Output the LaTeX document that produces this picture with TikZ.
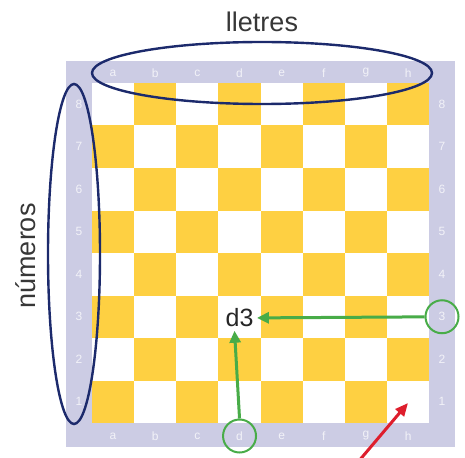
\documentclass[tikz,border=0pt]{standalone}
\usepackage{fontspec}
\setmainfont{Liberation Sans}
\usetikzlibrary{arrows.meta}
\definecolor{boardyellow}{RGB}{254,208,66}
\definecolor{framelilac}{RGB}{204,204,228}
\definecolor{ringblue}{RGB}{28,42,108}
\definecolor{ringgreen}{RGB}{72,172,72}
\definecolor{arrowred}{RGB}{222,30,45}
\definecolor{labelgray}{RGB}{55,55,55}
\newcommand{\sqw}{42.15}
\newcommand{\sqh}{42.5}
\begin{document}
\begin{tikzpicture}[x=1pt,y=-1pt,
	coordlabel/.style={text=white!75!framelilac,font=\fontsize{12}{12}\selectfont,inner sep=0pt},
	ring/.style={draw=ringgreen,line width=2pt,circle,minimum size=33pt,inner sep=0pt},
	pointer/.style={draw=ringgreen,line width=3pt,-{Triangle[length=12pt,width=11pt]}},
	bigtext/.style={text=labelgray,font=\fontsize{27}{27}\selectfont}]
	\useasboundingbox (0,0) rectangle (465,457);
	\fill [framelilac] (66,61) rectangle (455,447);
	\fill [white] (92,83) rectangle (92+8*\sqw,83+8*\sqh);
	\foreach \c in {0,...,7}{
		\foreach \r in {0,...,7}{
			\pgfmathparse{int(mod(\c+\r,2))}
			\ifnum\pgfmathresult=1
				\fill [boardyellow] (92+\c*\sqw,83+\r*\sqh) rectangle ++(\sqw,\sqh);
			\fi
		}
	}
	\foreach \l [count=\i from 0] in {a,b,c,d,e,f,g,h}{
		\node [coordlabel] at (92+\i*\sqw+0.5*\sqw,73) (top-\l) {\l};
		\node [coordlabel] at (92+\i*\sqw+0.5*\sqw,436) (bot-\l) {\l};
	}
	\foreach \n in {1,...,8}{
		\node [coordlabel] at (79,83+8.5*\sqh-\n*\sqh) (left-\n) {\n};
		\node [coordlabel] at (442,83+8.5*\sqh-\n*\sqh) (right-\n) {\n};
	}
	\node [bigtext] at (262,22) (lletres) {lletres};
	\node [bigtext,rotate=90] at (26,256) (numeros) {números};
	\draw [ringblue,line width=2.4pt] (262,73) ellipse [x radius=170pt,y radius=31pt];
	\draw [ringblue,line width=2.4pt] (74,254) ellipse [x radius=26pt,y radius=170pt];
	\node [text=black!85,font=\fontsize{25}{25}\selectfont] at (239.5,318) (dthree) {d3};
	\node [ring] at (right-3) (ring3) {};
	\node [ring] at (bot-d) (ringd) {};
	\draw [pointer] (ring3) -- (dthree);
	\draw [pointer] (ringd.north) -- ([xshift=-5pt]dthree.south);
	\coordinate (redtail) at (358,462);
	\coordinate (redtip) at (408,403);
	\draw [arrowred,line width=3pt,-{Triangle[length=13pt,width=11pt]}] (redtail) -- (redtip);
\end{tikzpicture}
\end{document}
